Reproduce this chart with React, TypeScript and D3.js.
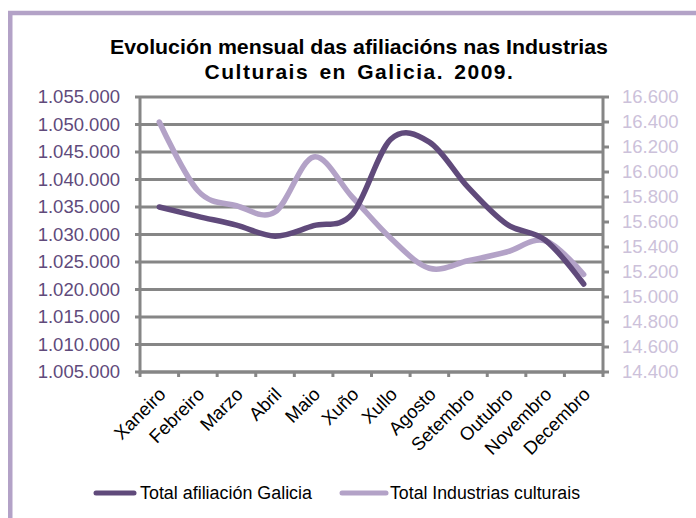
import React from "react";
import * as d3 from "d3";

const months = ["Xaneiro", "Febreiro", "Marzo", "Abril", "Maio", "Xuño", "Xullo", "Agosto", "Setembro", "Outubro", "Novembro", "Decembro"];
const afiliacionGalicia = [1035000, 1033300, 1031700, 1029700, 1031600, 1033700, 1047300, 1046800, 1038600, 1031900, 1029000, 1021000];
const industriasCulturais = [16400, 15850, 15730, 15680, 16120, 15800, 15470, 15230, 15290, 15360, 15450, 15180];
const leftTicks = [1005000, 1010000, 1015000, 1020000, 1025000, 1030000, 1035000, 1040000, 1045000, 1050000, 1055000];
const rightTicks = [14400, 14600, 14800, 15000, 15200, 15400, 15600, 15800, 16000, 16200, 16400, 16600];
const titleLines = ["Evolución mensual das afiliacións nas Industrias", "Culturais en Galicia. 2009."];
const seriesNames = ["Total afiliación Galicia", "Total Industrias culturais"];

const DARK = "#604A7B";
const LIGHT = "#B3A2C7";
const RIGHT_TEXT = "#CCC1DA";
const GRID = "#868686";
const FONT = "'Liberation Sans', Arial, sans-serif";

const locale = d3.formatLocale({ decimal: ",", thousands: ".", grouping: [3], currency: ["", "€"] });
const fmt = locale.format(",d");

export default function App() {
  const left = 140, right = 603, top = 97, bottom = 372;
  const x = d3.scaleBand<string>().domain(months).range([left, right]).padding(0);
  const yL = d3.scaleLinear().domain([1005000, 1055000]).range([bottom, top]);
  const yR = d3.scaleLinear().domain([14400, 16600]).range([bottom, top]);
  const cx = (m: string) => (x(m) as number) + x.bandwidth() / 2;

  const lineL = d3.line<number>().x((_, i) => cx(months[i])).y((d) => yL(d)).curve(d3.curveCardinal.tension(0));
  const lineR = d3.line<number>().x((_, i) => cx(months[i])).y((d) => yR(d)).curve(d3.curveCardinal.tension(0));

  const xTicks = months.map((m) => x(m) as number).concat([right]);

  return (
    <svg width={696} height={518} style={{ position: "absolute", left: 0, top: 0, background: "#fff" }}>
      <rect x={10.25} y={13} width={720} height={540} fill="#fff" stroke={LIGHT} strokeWidth={4.5} />
      <text x={359} y={54} textAnchor="middle" fontFamily={FONT} fontWeight="bold" fontSize={21} textLength={498} lengthAdjust="spacingAndGlyphs" fill="#000">{titleLines[0]}</text>
      <text x={359.5} y={79} textAnchor="middle" fontFamily={FONT} fontWeight="bold" fontSize={21} letterSpacing={1.5} wordSpacing={3} fill="#000">{titleLines[1]}</text>

      {/* gridlines */}
      {leftTicks.map((t) => (
        <line key={"g" + t} x1={left} x2={right} y1={yL(t)} y2={yL(t)} stroke={GRID} strokeWidth={3} />
      ))}
      {/* left axis */}
      <line x1={left} x2={left} y1={top} y2={bottom + 1.5} stroke={GRID} strokeWidth={3} />
      {leftTicks.map((t) => (
        <g key={"l" + t}>
          <line x1={left - 5} x2={left} y1={yL(t)} y2={yL(t)} stroke={GRID} strokeWidth={3} />
          <text x={120} y={yL(t)} dy="0.35em" textAnchor="end" fontFamily={FONT} fontSize={18.5} fill={DARK}>{fmt(t)}</text>
        </g>
      ))}
      {/* right axis */}
      <line x1={right} x2={right} y1={top} y2={bottom + 1.5} stroke={GRID} strokeWidth={3} />
      {rightTicks.map((t) => (
        <g key={"r" + t}>
          <line x1={right} x2={right + 6} y1={yR(t)} y2={yR(t)} stroke={GRID} strokeWidth={3} />
          <text x={622} y={yR(t)} dy="0.35em" textAnchor="start" fontFamily={FONT} fontSize={18.5} fill={RIGHT_TEXT}>{fmt(t)}</text>
        </g>
      ))}
      {/* x axis */}
      <line x1={left} x2={right} y1={bottom} y2={bottom} stroke={GRID} strokeWidth={3} />
      {xTicks.map((t, i) => (
        <line key={"xt" + i} x1={t} x2={t} y1={bottom} y2={bottom + 5} stroke={GRID} strokeWidth={3} />
      ))}
      {months.map((m) => (
        <text key={"xl" + m} transform={`translate(${cx(m) + 3},${bottom + 19}) rotate(-45)`} textAnchor="end" dy="0.35em" fontFamily={FONT} fontSize={18.5} fill="#000">{m}</text>
      ))}

      {/* series */}
      <path d={lineR(industriasCulturais) || ""} fill="none" stroke={LIGHT} strokeWidth={5.5} strokeLinecap="round" strokeLinejoin="round" />
      <path d={lineL(afiliacionGalicia) || ""} fill="none" stroke={DARK} strokeWidth={5.5} strokeLinecap="round" strokeLinejoin="round" />

      {/* legend */}
      <line x1={96} x2={134} y1={493} y2={493} stroke={DARK} strokeWidth={5} strokeLinecap="round" />
      <text x={140} y={493} dy="0.35em" fontFamily={FONT} fontSize={18} textLength={172} lengthAdjust="spacingAndGlyphs" fill="#000">{seriesNames[0]}</text>
      <line x1={342} x2={386} y1={493} y2={493} stroke={LIGHT} strokeWidth={5} strokeLinecap="round" />
      <text x={390} y={493} dy="0.35em" fontFamily={FONT} fontSize={18} textLength={190} lengthAdjust="spacingAndGlyphs" fill="#000">{seriesNames[1]}</text>
    </svg>
  );
}
